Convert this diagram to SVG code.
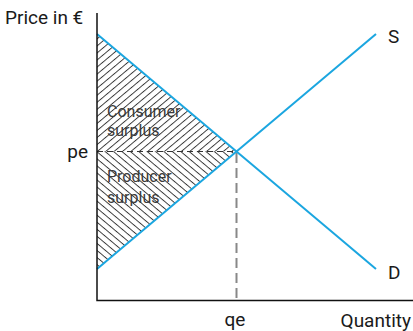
<svg xmlns="http://www.w3.org/2000/svg" width="413" height="331" viewBox="0 0 413 331">
<style>
.lbl{font-family:"Roboto","Liberation Sans",sans-serif;font-size:19px;fill:#1a1a1a}
.area{font-family:"Roboto","Liberation Sans",sans-serif;font-size:16px;fill:#3a3a3a}
.axis{stroke:#111;stroke-width:1.5;fill:none}
.curve{stroke:#1ba6e0;stroke-width:2;fill:none}
.hatch{stroke:#222;stroke-width:0.9}
</style>
<defs>
<pattern id="hUp" patternUnits="userSpaceOnUse" width="20" height="5.4" patternTransform="rotate(-40 97 151.5)">
<line class="hatch" x1="0" y1="0.5" x2="20" y2="0.5"/>
</pattern>
<pattern id="hDown" patternUnits="userSpaceOnUse" width="20" height="5.4" patternTransform="rotate(40 97 151.5)">
<line class="hatch" x1="0" y1="0.5" x2="20" y2="0.5"/>
</pattern>
</defs>
<rect width="413" height="331" fill="#fff"/>
<g id="consumer-surplus">
<polygon points="97,34 236.5,151.5 97,151.5" fill="url(#hUp)"/>
<text class="area" x="107" y="117">Consumer</text>
<text class="area" x="107" y="136">surplus</text>
</g>
<g id="producer-surplus">
<polygon points="97,151.5 236.5,151.5 97,269" fill="url(#hDown)"/>
<text class="area" x="107" y="182">Producer</text>
<text class="area" x="107" y="203">surplus</text>
</g>
<g id="connectors">
<line x1="97" y1="151.5" x2="236" y2="151.5" stroke="#333" stroke-width="1" stroke-dasharray="6 4"/>
<line x1="236.5" y1="153" x2="236.5" y2="299" stroke="#888" stroke-width="2" stroke-dasharray="10 5"/>
<line id="demand" class="curve" x1="97" y1="34" x2="376" y2="269"/>
<line id="supply" class="curve" x1="97" y1="269" x2="376" y2="34"/>
<polyline class="axis" points="97,13 97,300.5 413,300.5"/>
</g>
<g id="labels">
<text class="lbl" x="5" y="24">Price in €</text>
<text class="lbl" x="88" y="158" text-anchor="end">pe</text>
<text class="lbl" x="235" y="326" text-anchor="middle">qe</text>
<text class="lbl" x="411" y="327" text-anchor="end">Quantity</text>
<text class="lbl" x="388" y="43">S</text>
<text class="lbl" x="388" y="279">D</text>
</g>
</svg>
